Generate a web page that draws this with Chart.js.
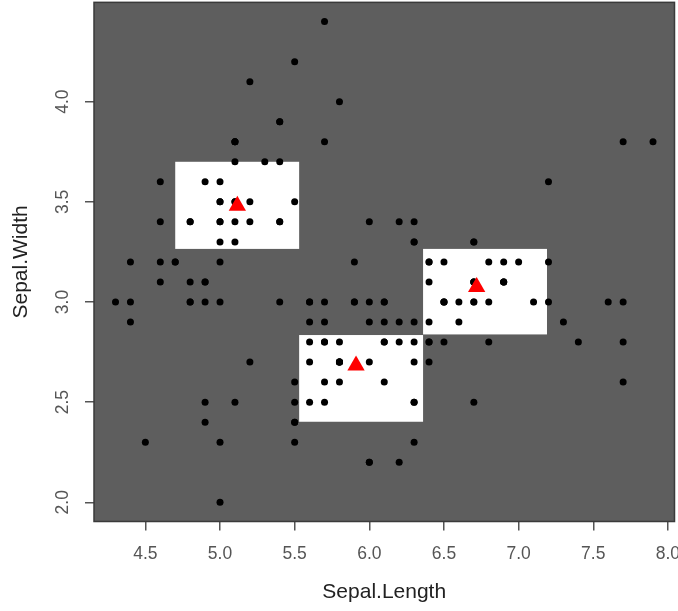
<!DOCTYPE html>
<html>
<head>
<meta charset="utf-8">
<title>Sepal.Length vs Sepal.Width</title>
<script src="https://cdn.jsdelivr.net/npm/chart.js@4"></script>
<style>
  html, body { margin: 0; padding: 0; background: #fff; }
  canvas { display: block; }
</style>
</head>
<body>
<canvas id="chart" width="678" height="611"></canvas>
<script>
'use strict';
/* ============================================================
   iris — Sepal.Length / Sepal.Width, 3 groupes + centres
   ============================================================ */

const sepalLength = [
  5.1, 4.9, 4.7, 4.6, 5.0, 5.4, 4.6, 5.0, 4.4, 4.9, 5.4, 4.8, 4.8, 4.3, 5.8, 5.7, 5.4, 5.1, 5.7, 5.1,
  5.4, 5.1, 4.6, 5.1, 4.8, 5.0, 5.0, 5.2, 5.2, 4.7, 4.8, 5.4, 5.2, 5.5, 4.9, 5.0, 5.5, 4.9, 4.4, 5.1,
  5.0, 4.5, 4.4, 5.0, 5.1, 4.8, 5.1, 4.6, 5.3, 5.0,
  7.0, 6.4, 6.9, 5.5, 6.5, 5.7, 6.3, 4.9, 6.6, 5.2, 5.0, 5.9, 6.0, 6.1, 5.6, 6.7, 5.6, 5.8, 6.2, 5.6,
  5.9, 6.1, 6.3, 6.1, 6.4, 6.6, 6.8, 6.7, 6.0, 5.7, 5.5, 5.5, 5.8, 6.0, 5.4, 6.0, 6.7, 6.3, 5.6, 5.5,
  5.5, 6.1, 5.8, 5.0, 5.6, 5.7, 5.7, 6.2, 5.1, 5.7,
  6.3, 5.8, 7.1, 6.3, 6.5, 7.6, 4.9, 7.3, 6.7, 7.2, 6.5, 6.4, 6.8, 5.7, 5.8, 6.4, 6.5, 7.7, 7.7, 6.0,
  6.9, 5.6, 7.7, 6.3, 6.7, 7.2, 6.2, 6.1, 6.4, 7.2, 7.4, 7.9, 6.4, 6.3, 6.1, 7.7, 6.3, 6.4, 6.0, 6.9,
  6.7, 6.9, 5.8, 6.8, 6.7, 6.7, 6.3, 6.5, 6.2, 5.9
];
const sepalWidth = [
  3.5, 3.0, 3.2, 3.1, 3.6, 3.9, 3.4, 3.4, 2.9, 3.1, 3.7, 3.4, 3.0, 3.0, 4.0, 4.4, 3.9, 3.5, 3.8, 3.8,
  3.4, 3.7, 3.6, 3.3, 3.4, 3.0, 3.4, 3.5, 3.4, 3.2, 3.1, 3.4, 4.1, 4.2, 3.1, 3.2, 3.5, 3.6, 3.0, 3.4,
  3.5, 2.3, 3.2, 3.5, 3.8, 3.0, 3.8, 3.2, 3.7, 3.3,
  3.2, 3.2, 3.1, 2.3, 2.8, 2.8, 3.3, 2.4, 2.9, 2.7, 2.0, 3.0, 2.2, 2.9, 2.9, 3.1, 3.0, 2.7, 2.2, 2.5,
  3.2, 2.8, 2.5, 2.8, 2.9, 3.0, 2.8, 3.0, 2.9, 2.6, 2.4, 2.4, 2.7, 2.7, 3.0, 3.4, 3.1, 2.3, 3.0, 2.5,
  2.6, 3.0, 2.6, 2.3, 2.7, 3.0, 2.9, 2.9, 2.5, 2.8,
  3.3, 2.7, 3.0, 2.9, 3.0, 3.0, 2.5, 2.9, 2.5, 3.6, 3.2, 2.7, 3.0, 2.5, 2.8, 3.2, 3.0, 3.8, 2.6, 2.2,
  3.2, 2.8, 2.8, 2.7, 3.3, 3.2, 2.8, 3.0, 2.8, 3.0, 2.8, 3.8, 2.8, 2.8, 2.6, 3.0, 3.4, 3.1, 3.0, 3.1,
  3.1, 3.1, 2.7, 3.2, 3.3, 3.0, 2.5, 3.0, 3.4, 3.0
];

// centres des groupes (triangles rouges)
const centerX = [5.116, 5.911, 6.719];
const centerY = [3.481, 2.683, 3.075];

// cadres blancs autour des centres
const boxXMin = [4.70, 5.53, 6.36];
const boxXMax = [5.53, 6.36, 7.19];
const boxYMin = [3.265, 2.402, 2.838];
const boxYMax = [3.700, 2.835, 3.265];

const xTicks = [4.5, 5.0, 5.5, 6.0, 6.5, 7.0, 7.5, 8.0];
const yTicks = [2.0, 2.5, 3.0, 3.5, 4.0];

const FONT = "'Liberation Sans', Arial, sans-serif";

// pas de marge automatique pour les étiquettes qui débordent
function noOverhang(s) {
  s.paddingLeft = s.paddingRight = s.paddingTop = s.paddingBottom = 0;
}

// ── Fond gris, cadres, bordure ───────────────────────────────
const plotFrame = {
  id: 'plotFrame',
  beforeDatasetsDraw(chart) {
    const { ctx, chartArea: a, scales: { x, y } } = chart;
    ctx.save();
    ctx.fillStyle = '#5e5e5e';
    ctx.fillRect(a.left, a.top, a.right - a.left, a.bottom - a.top);
    ctx.fillStyle = '#ffffff';
    boxXMin.forEach((x0, i) => {
      const l = x.getPixelForValue(x0), r = x.getPixelForValue(boxXMax[i]);
      const t = y.getPixelForValue(boxYMax[i]), b = y.getPixelForValue(boxYMin[i]);
      ctx.fillRect(l, t, r - l, b - t);
    });
    ctx.restore();
  },
  afterDraw(chart) {
    const { ctx, chartArea: a } = chart;
    ctx.save();
    ctx.strokeStyle = '#3a3a3a';
    ctx.lineWidth = 1.5;
    ctx.strokeRect(a.left, a.top, a.right - a.left, a.bottom - a.top);
    ctx.restore();
  }
};

const points = sepalLength.map((v, i) => ({ x: v, y: sepalWidth[i] }));
const centers = centerX.map((v, i) => ({ x: v, y: centerY[i] }));

new Chart(document.getElementById('chart'), {
  type: 'scatter',
  data: {
    datasets: [
      {
        label: 'centres',
        data: centers,
        order: 0,
        pointStyle: 'triangle',
        pointRadius: 10,
        backgroundColor: '#ff0000',
        borderWidth: 0
      },
      {
        label: 'iris',
        data: points,
        order: 1,
        pointRadius: 3.5,
        backgroundColor: '#000000',
        borderWidth: 0
      }
    ]
  },
  options: {
    responsive: false,
    animation: false,
    layout: { autoPadding: false, padding: { top: 2.35, right: 3.5, bottom: 0, left: 0 } },
    plugins: { legend: { display: false }, tooltip: { enabled: false } },
    scales: {
      x: {
        type: 'linear',
        min: 4.156,
        max: 8.044,
        afterBuildTicks: s => { s.ticks = xTicks.map(v => ({ value: v })); },
        afterFit: s => { s.height = 89.5; noOverhang(s); },
        grid: { drawOnChartArea: false, drawTicks: true, tickLength: 9, color: '#555', lineWidth: 1.5 },
        border: { display: false },
        ticks: {
          padding: 13,
          color: '#555',
          font: { family: FONT, size: 17.5 },
          callback: v => v.toFixed(1)
        },
        title: {
          display: true,
          text: 'Sepal.Length',
          color: '#222',
          font: { family: FONT, size: 21 },
          padding: { top: 0, bottom: 6.4 }
        }
      },
      y: {
        type: 'linear',
        min: 1.904,
        max: 4.496,
        afterBuildTicks: s => { s.ticks = yTicks.map(v => ({ value: v })); },
        afterFit: s => { s.width = 94; noOverhang(s); },
        grid: { drawOnChartArea: false, drawTicks: true, tickLength: 9, color: '#555', lineWidth: 1.5 },
        border: { display: false },
        ticks: {
          padding: 9.5,
          minRotation: 90,
          maxRotation: 90,
          crossAlign: 'center',
          color: '#555',
          font: { family: FONT, size: 17.5 },
          callback: v => v.toFixed(1)
        },
        title: {
          display: true,
          text: 'Sepal.Width',
          color: '#222',
          font: { family: FONT, size: 21 },
          padding: { top: 8.4, bottom: 0 }
        }
      }
    }
  },
  plugins: [plotFrame]
});
</script>
</body>
</html>
